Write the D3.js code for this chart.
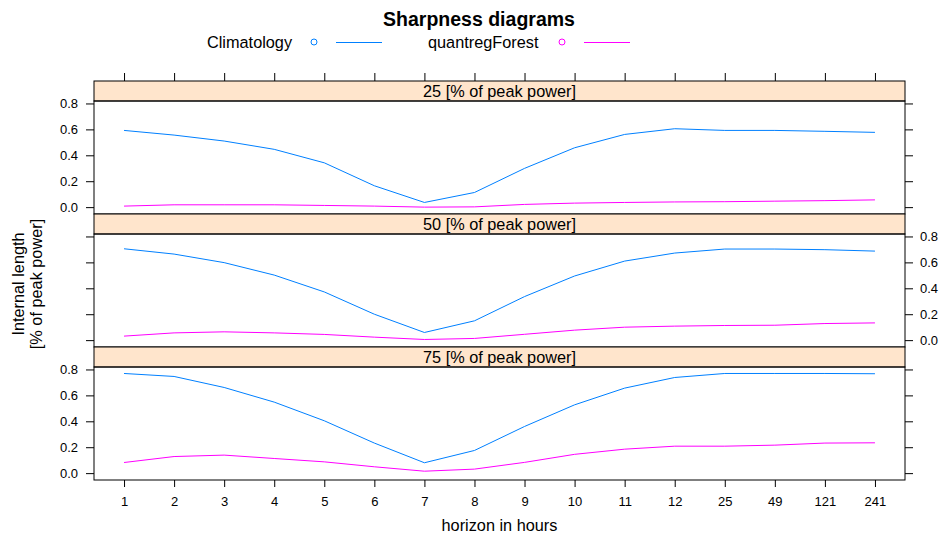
<!DOCTYPE html>
<html>
<head>
<meta charset="utf-8">
<script src="https://cdn.jsdelivr.net/npm/d3@7"></script>
<style>
  body { margin: 0; background: #fff; }
  svg { display: block; font-family: "Liberation Sans", Arial, sans-serif; }
</style>
</head>
<body>
<div id="chart"></div>
<script>
// forecast horizons (x categories)
const horizons = ["1", "2", "3", "4", "5", "6", "7", "8", "9", "10", "11", "12", "25", "49", "121", "241"];
const quantiles = ["25", "50", "75"];
const seriesNames = ["Climatology", "quantregForest"];
const yTicks = [0.0, 0.2, 0.4, 0.6, 0.8];

const climatology25 = [0.592, 0.556, 0.51, 0.446, 0.342, 0.165, 0.036, 0.113, 0.299, 0.458, 0.561, 0.605, 0.592, 0.592, 0.585, 0.577];
const quantreg25   = [0.008, 0.018, 0.018, 0.018, 0.013, 0.008, 0.0, 0.002, 0.021, 0.031, 0.036, 0.04, 0.042, 0.046, 0.05, 0.056];
const climatology50 = [0.705, 0.664, 0.598, 0.502, 0.372, 0.2, 0.059, 0.149, 0.336, 0.495, 0.61, 0.672, 0.703, 0.703, 0.698, 0.687];
const quantreg50   = [0.031, 0.056, 0.064, 0.056, 0.044, 0.023, 0.005, 0.013, 0.045, 0.077, 0.1, 0.108, 0.113, 0.115, 0.128, 0.133];
const climatology75 = [0.769, 0.746, 0.661, 0.548, 0.404, 0.232, 0.08, 0.175, 0.36, 0.527, 0.656, 0.738, 0.769, 0.769, 0.769, 0.767];
const quantreg75   = [0.082, 0.128, 0.139, 0.113, 0.087, 0.049, 0.015, 0.031, 0.083, 0.145, 0.185, 0.208, 0.208, 0.216, 0.232, 0.234];

const panelData = [
    [climatology25, quantreg25],
    [climatology50, quantreg50],
    [climatology75, quantreg75]
];

const colors = ["#0080ff", "#ff00ff"];

const width = 946, height = 540;
const left = 94, right = 905;
const layoutTop = 81;
const stripH = 20, plotH = 113;
const panelH = stripH + plotH;

const svg = d3.select("#chart").append("svg")
    .attr("width", width)
    .attr("height", height);

const x = d3.scalePoint()
    .domain(horizons)
    .range([left, right])
    .padding(0.6);

const fmt = d3.format(".1f");

// title
svg.append("text")
    .attr("x", 479)
    .attr("y", 26)
    .attr("text-anchor", "middle")
    .style("font-weight", "bold")
    .style("font-size", "19.5px")
    .text("Sharpness diagrams");

// legend
const legendX = [207, 428];
const legendSym = [314, 562];
seriesNames.forEach((name, i) => {
    svg.append("text")
        .attr("x", legendX[i])
        .attr("y", 48)
        .style("font-size", "16.3px")
        .text(name);
    svg.append("circle")
        .attr("cx", legendSym[i])
        .attr("cy", 42)
        .attr("r", 3)
        .attr("fill", "none")
        .attr("stroke", colors[i]);
    svg.append("line")
        .attr("x1", legendSym[i] + 22)
        .attr("x2", legendSym[i] + 68)
        .attr("y1", 42.5)
        .attr("y2", 42.5)
        .attr("stroke", colors[i]);
});

quantiles.forEach((q, i) => {
    const top = layoutTop + i * panelH;
    const plotTop = top + stripH;
    const plotBottom = plotTop + plotH;

    const y = d3.scaleLinear()
        .domain([-0.053, 0.819])
        .range([plotBottom, plotTop]);

    // strip
    svg.append("rect")
        .attr("x", left).attr("y", top)
        .attr("width", right - left).attr("height", stripH)
        .attr("fill", "#ffe5cc");
    svg.append("text")
        .attr("x", (left + right) / 2)
        .attr("y", top + 16)
        .attr("text-anchor", "middle")
        .style("font-size", "16.3px")
        .text(q + " [% of peak power]");

    // lines
    const line = d3.line()
        .x((d, j) => x(horizons[j]))
        .y(d => y(d));
    panelData[i].forEach((vals, s) => {
        svg.append("path")
            .datum(vals)
            .attr("d", line)
            .attr("fill", "none")
            .attr("stroke", colors[s])
            .attr("stroke-width", 1);
    });

    // borders
    svg.append("rect")
        .attr("x", left).attr("y", top)
        .attr("width", right - left).attr("height", stripH)
        .attr("fill", "none").attr("stroke", "#000");
    svg.append("rect")
        .attr("x", left).attr("y", plotTop)
        .attr("width", right - left).attr("height", plotH)
        .attr("fill", "none").attr("stroke", "#000");

    // y axes, labels alternate left / right
    const leftAxis = d3.axisLeft(y).tickValues(yTicks).tickSize(8).tickPadding(8)
        .tickFormat(i === 1 ? "" : fmt);
    const rightAxis = d3.axisRight(y).tickValues(yTicks).tickSize(8).tickPadding(7)
        .tickFormat(i === 1 ? fmt : "");

    const gl = svg.append("g")
        .attr("transform", `translate(${left},0)`)
        .call(leftAxis);
    const gr = svg.append("g")
        .attr("transform", `translate(${right},0)`)
        .call(rightAxis);
    [gl, gr].forEach(g => {
        g.select(".domain").remove();
        g.selectAll("text").style("font-size", "13px").attr("fill", "#000").style("font-family", "Liberation Sans, Arial, sans-serif");
    });

    if (i === 0) {
        const gt = svg.append("g")
            .attr("transform", `translate(0,${top})`)
            .call(d3.axisTop(x).tickSize(8).tickFormat(""));
        gt.select(".domain").remove();
    }
    if (i === quantiles.length - 1) {
        const gb = svg.append("g")
            .attr("transform", `translate(0,${plotBottom})`)
            .call(d3.axisBottom(x).tickSize(7).tickPadding(10));
        gb.select(".domain").remove();
        gb.selectAll("text").style("font-size", "13px").attr("fill", "#000").style("font-family", "Liberation Sans, Arial, sans-serif");
    }
});

// axis titles
svg.append("text")
    .attr("x", (left + right) / 2)
    .attr("y", 531)
    .attr("text-anchor", "middle")
    .style("font-size", "16.3px")
    .text("horizon in hours");

const ylab = svg.append("text")
    .attr("transform", "translate(24,284) rotate(-90)")
    .attr("text-anchor", "middle")
    .style("font-size", "16.3px");
ylab.append("tspan").attr("x", 0).attr("y", 0).text("Internal length");
ylab.append("tspan").attr("x", 0).attr("y", 18).text("[% of peak power]");
</script>
</body>
</html>
